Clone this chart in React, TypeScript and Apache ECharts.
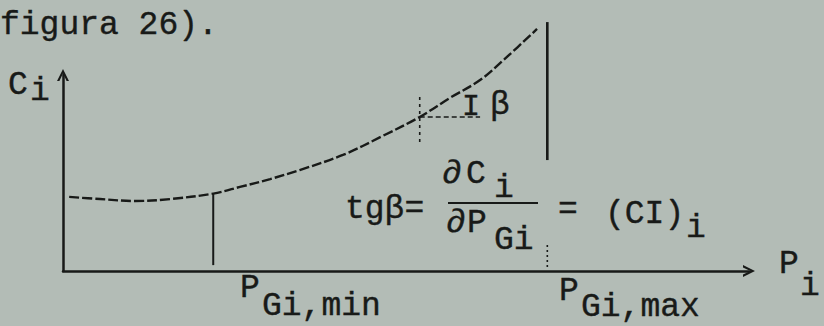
import React, { useEffect, useRef } from "react";
import * as echarts from "echarts";

// Cost curve C_i(P_i) sampled along its length
const curveP = [0.9, 5.4, 10.5, 15.6, 21.9, 25.8, 30.2, 34.5, 40.8, 46.6, 52.0, 56.4, 60.8, 64.4, 69.1];
const curveC = [37.8, 36.7, 35.7, 36.7, 39.5, 42.9, 46.9, 51.5, 59.2, 68.9, 78.6, 88.3, 97.4, 108.2, 123.5];

// Generation limits
const pGiMin = 21.9;
const pGiMinLine = [3, 39.5];
const pGiMax = 70.6;
const pGiMaxLine = [56.6, 127];
const pGiMaxFoot = [2, 13.3];

// Point where the slope β is taken
const tangentP = 52.0;
const tangentC = 78.6;
const tangentRunEnd = 60.8;
const tangentRise = [65.8, 90.8];

const INK = "#181a18";
const PAPER = "#b3bcb6";
const FONT = '"Liberation Mono", "Courier New", monospace';
const SIZE = 33;

// chevron pointing up, used for both axis arrows
const CHEVRON = "path://M0,12 L6,0 L12,12 L9.6,12 L6,4.6 L2.4,12 Z";

function txt(text: string, x: number, baseline: number, size = SIZE) {
  return {
    type: "text",
    x,
    y: baseline - size * 0.2665,
    silent: true,
    style: {
      text,
      font: `${size}px ${FONT}`,
      fill: INK,
      stroke: INK,
      lineWidth: 0.4,
      align: "left",
      verticalAlign: "middle",
    },
  };
}

export default function App() {
  const ref = useRef<HTMLDivElement>(null);

  useEffect(() => {
    if (!ref.current) return;
    const chart = echarts.init(ref.current, undefined, { renderer: "svg" });

    const guide = (pts: number[][], width: number, type: any) => ({
      type: "line",
      data: pts,
      symbol: "none",
      clip: false,
      silent: true,
      lineStyle: { color: INK, width, type },
    });

    const axisCommon = {
      type: "value",
      min: 0,
      max: 100,
      axisTick: { show: false },
      axisLabel: { show: false },
      splitLine: { show: false },
      axisLine: {
        show: true,
        symbol: ["none", CHEVRON],
        symbolSize: [12, 12],
        lineStyle: { color: INK, width: 2.5 },
      },
    };

    chart.setOption({
      animation: false,
      backgroundColor: PAPER,
      grid: { left: 63, right: 75, top: 75, bottom: 55 },
      xAxis: { ...axisCommon },
      yAxis: { ...axisCommon },
      series: [
        {
          type: "line",
          data: curveP.map((p, i) => [p, curveC[i]]),
          smooth: 0.35,
          symbol: "none",
          clip: false,
          silent: true,
          lineStyle: { color: INK, width: 2.4, type: [10, 3] },
        },
        guide([[pGiMin, pGiMinLine[0]], [pGiMin, pGiMinLine[1]]], 2, "solid"),
        guide([[pGiMax, pGiMaxLine[0]], [pGiMax, pGiMaxLine[1]]], 2.6, "solid"),
        guide([[pGiMax, pGiMaxFoot[0]], [pGiMax, pGiMaxFoot[1]]], 1.6, [2, 3]),
        guide([[tangentP, tangentC], [tangentRunEnd, tangentC]], 1.6, [5, 3]),
        guide([[tangentP, tangentRise[0]], [tangentP, tangentRise[1]]], 1.6, [3, 4]),
      ],
      graphic: [
        txt("figura 26).", 0, 34),
        txt("C", 8, 94),
        txt("i", 30, 100),
        txt("I", 462, 115, 30),
        txt("β", 490, 114),
        txt("tgβ=", 345, 218),
        txt("∂", 442, 183),
        txt("C", 466, 183),
        txt("i", 494, 197),
        {
          type: "line",
          silent: true,
          shape: { x1: 448, y1: 203, x2: 538, y2: 203 },
          style: { stroke: INK, lineWidth: 2 },
        },
        txt("∂", 446, 232),
        txt("P", 467, 232),
        txt("Gi", 494, 249),
        txt("=", 558, 219),
        txt("(CI)", 605, 223),
        txt("i", 686, 237),
        txt("P", 240, 297),
        txt("Gi,min", 262, 315),
        txt("P", 559, 300),
        txt("Gi,max", 581, 316),
        txt("P", 779, 273),
        txt("i", 800, 295),
      ],
    });

    return () => chart.dispose();
  }, []);

  return (
    <div
      ref={ref}
      style={{ position: "fixed", left: 0, top: 0, width: 824, height: 326 }}
    />
  );
}
